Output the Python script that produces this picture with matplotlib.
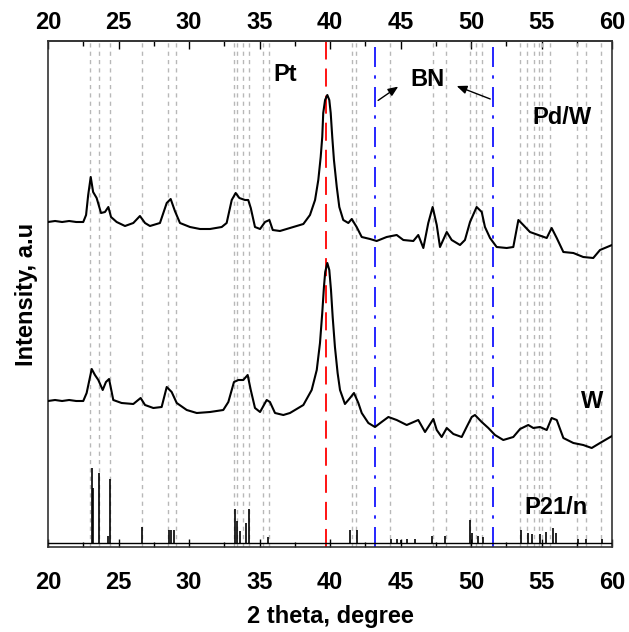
import matplotlib
matplotlib.use("Agg")
import matplotlib.pyplot as plt
from matplotlib.ticker import FixedLocator

plt.rcParams["font.family"] = ["Liberation Sans", "DejaVu Sans"]
plt.rcParams["font.weight"] = "bold"

# ── XRD patterns (intensity in a.u., offset stacked) ──
pdw_2theta = [20.0, 20.5, 21.0, 21.5, 22.0, 22.5, 22.7, 22.85, 23.03, 23.2, 23.45, 23.76,
              24.04, 24.28, 24.47, 24.87, 25.46, 26.05, 26.52, 26.88, 27.23, 27.94, 28.42,
              28.7, 29.0, 29.36, 30.07, 30.78, 31.49, 32.32, 32.67, 33.03, 33.31, 33.57,
              33.97, 34.2, 34.38, 34.68, 35.04, 35.39, 35.7, 35.94, 36.45, 37.16, 38.11,
              38.58, 38.94, 39.17, 39.34, 39.45, 39.52, 39.65, 39.81, 39.95, 40.05, 40.16,
              40.28, 40.48, 40.66, 40.94, 41.3, 41.54, 41.89, 42.25, 42.84, 43.31, 44.02,
              44.73, 45.2, 45.91, 46.26, 46.62, 46.97, 47.28, 47.57, 47.8, 48.28, 48.63,
              49.22, 49.57, 49.93, 50.4, 50.76, 50.99, 51.35, 51.82, 52.53, 53.0, 53.36,
              53.71, 54.18, 54.77, 55.37, 55.72, 56.08, 56.55, 57.26, 57.96, 58.67, 59.15,
              60.0]
pdw_int = [325, 326, 325, 326, 325, 325, 332, 352, 370, 355, 349, 334,
           335, 340, 330, 325, 321, 324, 331, 324, 321, 324, 344,
           348, 336, 324, 320, 318, 318, 320, 324, 347, 354, 349,
           347, 347, 339, 320, 318, 325, 327, 317, 316, 319, 323,
           332, 347, 367, 390, 410, 434, 447, 452, 447, 434, 410,
           387, 360, 340, 327, 324, 328, 320, 310, 308, 306, 310,
           312, 307, 306, 312, 299, 324, 340, 322, 300, 315, 307,
           302, 307, 325, 340, 335, 320, 309, 300, 299, 300, 327,
           322, 315, 312, 309, 319, 309, 295, 294, 290, 289, 297,
           302]

w_2theta = [20.0, 20.5, 21.0, 21.5, 22.0, 22.5, 22.74, 23.1, 23.33, 23.57, 23.88, 24.11,
            24.33, 24.63, 25.22, 26.05, 26.57, 26.88, 27.47, 28.06, 28.42, 28.77, 29.13,
            29.84, 30.55, 31.49, 32.43, 32.79, 33.19, 33.5, 33.85, 34.16, 34.38, 34.68,
            35.04, 35.51, 35.74, 36.1, 36.69, 37.16, 38.11, 38.7, 39.06, 39.29, 39.45,
            39.57, 39.66, 39.81, 39.95, 40.07, 40.19, 40.35, 40.54, 40.71, 41.06, 41.42,
            41.7, 42.01, 42.25, 42.72, 43.19, 43.66, 44.14, 44.73, 45.44, 46.26, 46.74,
            47.33, 47.57, 47.92, 48.28, 48.75, 49.34, 49.69, 50.05, 50.28, 50.76, 51.23,
            51.7, 52.29, 53.0, 53.48, 54.06, 54.42, 54.89, 55.37, 55.72, 56.08, 56.55,
            57.26, 57.96, 58.56, 59.15, 60.0]
w_int = [146, 147, 146, 147, 146, 146, 154, 178, 172, 167, 157, 165,
         168, 147, 144, 143, 149, 142, 139, 140, 160, 155, 144,
         137, 134, 135, 137, 145, 165, 167, 167, 172, 157, 139,
         135, 147, 145, 134, 132, 134, 142, 157, 177, 204, 234,
         260, 275, 284, 277, 257, 230, 200, 174, 157, 143, 149,
         154, 144, 134, 124, 120, 125, 130, 127, 122, 127, 115,
         128, 117, 110, 119, 113, 110, 120, 130, 132, 125, 119,
         112, 107, 110, 118, 122, 119, 120, 117, 129, 127, 109,
         104, 102, 99, 104, 111]

# reference card P21/n (relative intensities)
ref_2theta = [23.10, 23.21, 23.64, 24.24, 24.43, 26.67, 28.56, 28.75, 28.96, 33.28, 33.41,
              33.60, 34.03, 34.25, 35.57, 41.43, 41.92, 44.35, 44.75, 45.02, 45.43, 46.02,
              47.23, 48.18, 49.96, 50.09, 50.50, 50.82, 53.52, 54.06, 54.33, 54.87, 55.33,
              55.82, 56.0, 57.57, 58.19, 59.32]
ref_rel = [100, 73, 94, 9, 85, 21, 18, 18, 18, 45, 30,
           16, 27, 45, 8, 18, 18, 5, 5, 4, 5, 5,
           9, 9, 31, 14, 9, 8, 17, 14, 12, 12, 15,
           20, 14, 6, 6, 6]

# guide lines
guide_2theta = [23.0, 23.6, 24.4, 26.65, 28.5, 29.05, 33.2, 33.4, 33.8, 34.25, 35.25, 35.65,
                41.55, 41.85, 44.25, 47.3, 48.25, 49.9, 50.35, 50.75, 53.45, 54.0, 54.45,
                54.85, 55.05, 55.6, 57.55, 58.15, 59.2]
pt_2theta = 39.7
bn_2theta = [43.2, 51.55]

major_ticks = [20, 25, 30, 35, 40, 45, 50, 55, 60]
minor_ticks = [22.5, 27.5, 32.5, 37.5, 42.5, 47.5, 52.5, 57.5]

REF_BASE = 4
REF_SCALE = 0.75

fig = plt.figure(figsize=(6.29, 6.32), dpi=100)
ax = fig.add_axes([48 / 629, 85 / 632, 564 / 629, 506 / 632])

for g in guide_2theta:
    ax.axvline(g, color="#b8b8b8", lw=1.0, dashes=(3, 3), zorder=1)
ax.axvline(pt_2theta, color="red", lw=1.3, dashes=(10, 5), zorder=2)
for b in bn_2theta:
    ax.axvline(b, color="blue", lw=1.2, dashes=(12, 5, 2, 5), zorder=2)

ax.plot(pdw_2theta, pdw_int, color="black", lw=1.5, zorder=3)
ax.plot(w_2theta, w_int, color="black", lw=1.5, zorder=3)

ax.axhline(REF_BASE, color="black", lw=1.0, zorder=3)
ax.vlines(ref_2theta, REF_BASE, [REF_BASE + r * REF_SCALE for r in ref_rel],
          color="black", lw=1.2, zorder=3)

fs = 17
ax.text(36.8, 472, "Pt", fontsize=fs, fontweight="bold", ha="center", va="center")
ax.text(46.95, 467, "BN", fontsize=fs, fontweight="bold", ha="center", va="center")
ax.text(56.45, 429, "Pd/W", fontsize=fs, fontweight="bold", ha="center", va="center")
ax.text(58.6, 145, "W", fontsize=fs, fontweight="bold", ha="center", va="center")
ax.text(56.0, 39, "P21/n", fontsize=fs, fontweight="bold", ha="center", va="center")

arrow = dict(arrowstyle="-|>,head_length=0.6,head_width=0.25", color="black", lw=1.0)
ax.annotate("", xy=(45.0, 462), xytext=(43.25, 445), arrowprops=arrow)
ax.annotate("", xy=(48.8, 462), xytext=(51.55, 447), arrowprops=arrow)

ax.set_xlim(20, 60)
ax.set_ylim(0, 506)
ax.xaxis.set_major_locator(FixedLocator(major_ticks))
ax.xaxis.set_minor_locator(FixedLocator(minor_ticks))
ax.tick_params(axis="x", which="both", direction="in", top=False, bottom=True,
               labeltop=False, labelbottom=True, labelsize=fs, pad=17)
ax.tick_params(axis="x", which="major", length=6, width=1.0)
ax.tick_params(axis="x", which="minor", length=3.5, width=1.0)
ax.tick_params(axis="y", left=False, labelleft=False)

top = ax.secondary_xaxis("top")
top.xaxis.set_major_locator(FixedLocator(major_ticks))
top.xaxis.set_minor_locator(FixedLocator(minor_ticks))
top.tick_params(axis="x", which="both", direction="in", labelsize=fs, pad=5)
top.tick_params(axis="x", which="major", length=6, width=1.0)
top.tick_params(axis="x", which="minor", length=3.5, width=1.0)

for lab in ax.get_xticklabels() + top.get_xticklabels():
    lab.set_fontweight("bold")
for sp in list(ax.spines.values()) + list(top.spines.values()):
    sp.set_linewidth(1.2)
    sp.set_color("#333333")

ax.set_xlabel("2 theta, degree", fontsize=fs, fontweight="bold", labelpad=8)
ax.set_ylabel("Intensity, a.u", fontsize=fs, fontweight="bold", labelpad=7)

fig.savefig("out.png", dpi=100)
